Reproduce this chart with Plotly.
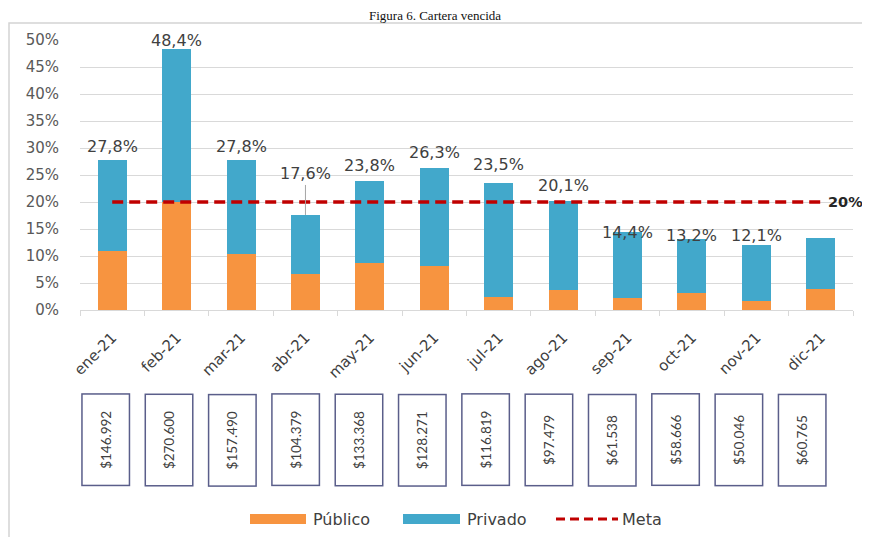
import plotly.graph_objects as go

# ---------------- data ----------------
months = ["ene-21", "feb-21", "mar-21", "abr-21", "may-21", "jun-21",
          "jul-21", "ago-21", "sep-21", "oct-21", "nov-21", "dic-21"]
total_pct = [27.8, 48.4, 27.8, 17.6, 23.8, 26.3, 23.5, 20.1, 14.4, 13.2, 12.1, 13.4]
publico_pct = [10.9, 20.0, 10.4, 6.7, 8.7, 8.1, 2.5, 3.7, 2.3, 3.2, 1.6, 3.8]
meta_pct = [20] * 12
show_label = [True] * 11 + [False]
montos = ["$146.992", "$270.600", "$157.490", "$104.379", "$133.368", "$128.271",
          "$116.819", "$97.479", "$61.538", "$58.666", "$50.046", "$60.765"]
title_text = "Figura 6. Cartera vencida"

privado_pct = [round(t - p, 2) for t, p in zip(total_pct, publico_pct)]

# ---------------- style ----------------
OFF = 8                      # default page margin of the html body
W, H = 870 - OFF, 537 - OFF
L, R, T, B = 72, 17, 32, 227
ORANGE = "#F79440"
BLUE = "#42A8CB"
RED = "#C00000"
TXT = "#404040"
FONT = "DejaVu Sans"
BOXFONT = "Lato"
# pixel offsets of the total labels above the bar tops (style only)
label_shift = [13, 8, 13, 33, 16, 15, 19, 16, 0, 3, 9, 0]
CAT_PX = (W - L - R) / len(months)


def px2x(sx):
    """screen x pixel -> paper x"""
    return (sx - OFF - L) / (W - L - R)


def px2y(sy):
    """screen y pixel -> paper y"""
    return (H - B - (sy - OFF)) / (H - T - B)


fig = go.Figure()
fig.add_trace(go.Bar(x=months, y=publico_pct, name="Público",
                     marker=dict(color=ORANGE, line=dict(width=0))))
fig.add_trace(go.Bar(x=months, y=privado_pct, name="Privado",
                     marker=dict(color=BLUE, line=dict(width=0))))
fig.add_trace(go.Scatter(x=months, y=meta_pct, name="Meta", mode="lines",
                         line=dict(color=RED, width=3.5, dash="11px,6px")))

annotations = []
# total labels
for i, (m, t) in enumerate(zip(months, total_pct)):
    if not show_label[i]:
        continue
    txt = f"{t:.1f}".replace(".", ",") + "%"
    if months[i] == "abr-21":
        annotations.append(dict(x=m, y=t, xref="x", yref="y", text=txt,
                                showarrow=True, arrowhead=0, arrowwidth=1,
                                arrowcolor="#A6A6A6", ax=0, ay=-label_shift[i] - 8,
                                font=dict(family=FONT, size=16, color=TXT)))
    else:
        annotations.append(dict(x=m, y=t, xref="x", yref="y", text=txt,
                                showarrow=False, yanchor="middle",
                                yshift=label_shift[i],
                                font=dict(family=FONT, size=16, color=TXT)))

# meta label at the end of the line
annotations.append(dict(x=months[-1], y=meta_pct[-1], xref="x", yref="y",
                        text="<b>20%</b>", showarrow=False, xanchor="left",
                        xshift=5, font=dict(family=FONT, size=14.5, color="#262626")))

# boxes with amounts (slightly narrower spacing than the bars, as in the source)
for i, amt in enumerate(montos):
    annotations.append(dict(x=i + (-7 - 1.1 * i) / CAT_PX, y=px2y(440),
                            xref="x", yref="paper",
                            xanchor="center", yanchor="middle",
                            text=amt, showarrow=False, textangle=-90,
                            width=90, height=46, borderpad=0,
                            bordercolor="#5A5E8A", borderwidth=1.5,
                            bgcolor="white",
                            font=dict(family=BOXFONT, size=13.5, color=TXT)))

# title
annotations.append(dict(x=px2x(435), y=px2y(OFF - 1), xref="paper", yref="paper",
                        text=title_text, showarrow=False, yanchor="top",
                        borderpad=0,
                        font=dict(family="Liberation Serif", size=13, color="#111111")))

shapes = []
# outer frame
shapes.append(dict(type="rect", xref="paper", yref="paper",
                   x0=px2x(OFF + 1), x1=px2x(900), y0=px2y(23), y1=px2y(600),
                   line=dict(color="#D4D4D4", width=1.5), fillcolor="rgba(0,0,0,0)",
                   layer="below"))
# custom legend
leg_y = 519
shapes.append(dict(type="rect", xref="paper", yref="paper",
                   x0=px2x(250), x1=px2x(306), y0=px2y(524), y1=px2y(514),
                   fillcolor=ORANGE, line=dict(width=0)))
shapes.append(dict(type="rect", xref="paper", yref="paper",
                   x0=px2x(403), x1=px2x(460), y0=px2y(524), y1=px2y(514),
                   fillcolor=BLUE, line=dict(width=0)))
shapes.append(dict(type="line", xref="paper", yref="paper",
                   x0=px2x(556), x1=px2x(618), y0=px2y(leg_y), y1=px2y(leg_y),
                   line=dict(color=RED, width=3, dash="9px,5px")))
for name, xp in [("Público", 311), ("Privado", 465), ("Meta", 620)]:
    annotations.append(dict(x=px2x(xp), y=px2y(leg_y), xref="paper", yref="paper",
                            text=name, showarrow=False, xanchor="left",
                            yanchor="middle",
                            font=dict(family=FONT, size=16, color=TXT)))

fig.update_layout(
    width=W, height=H, autosize=False,
    margin=dict(l=L, r=R, t=T, b=B),
    paper_bgcolor="white", plot_bgcolor="white",
    barmode="stack", bargap=0.55,
    showlegend=False,
    annotations=annotations, shapes=shapes,
    xaxis=dict(type="category", range=[-0.5, len(months) - 0.5],
               tickangle=-45, showgrid=False, automargin=False,
               showline=True, linecolor="#D9D9D9", linewidth=1,
               ticks="outside", tickson="boundaries", ticklen=5,
               tickcolor="#D9D9D9", ticklabelstandoff=12,
               tickfont=dict(family=FONT, size=15, color=TXT)),
    yaxis=dict(range=[0, 50], dtick=5, ticksuffix="%", showgrid=True,
               gridcolor="#D9D9D9", gridwidth=1, zeroline=False, automargin=False,
               showline=False, ticklabelstandoff=20,
               tickfont=dict(family=FONT, size=15, color="#595959")),
)

fig.write_html("out.html")
